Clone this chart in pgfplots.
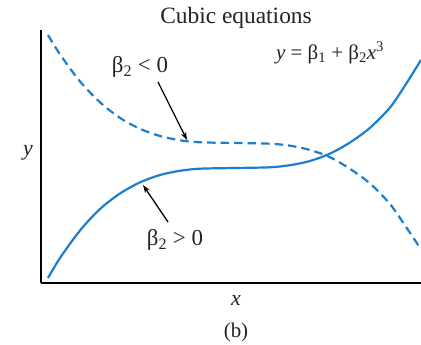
\documentclass[border=0pt]{standalone}
\usepackage{fontspec}
\setmainfont{Liberation Serif}
\usepackage{pgfplots}
\pgfplotsset{compat=1.18}
\usetikzlibrary{arrows.meta}
\definecolor{curveblue}{RGB}{28,126,206}
\definecolor{inktext}{RGB}{35,35,35}

\begin{document}
\begin{tikzpicture}
\path[use as bounding box] (0,0) rectangle (421bp,345bp);
\begin{axis}[
  at={(41bp,62bp)}, anchor=south west,
  scale only axis, width=380bp, height=253bp,
  xmin=0, xmax=380, ymin=0, ymax=253,
  axis lines*=left, ticks=none,
  axis line style={line width=2bp, black},
  clip=false,
]
% beta_2 > 0 (solid)
\addplot[curveblue, line width=2.2bp, smooth] coordinates {
  (7,5) (19,25) (39,52.5) (59,74) (79,89.5) (99,100.6) (119,108)
  (139,112.2) (159,114.3) (194,115) (229,115.7) (249,117.8) (269,122)
  (289,129.4) (309,140.5) (329,155.2) (349,175.5) (364,197.4) (380,223)
};
% beta_2 < 0 (dashed)
\addplot[curveblue, line width=2.2bp, smooth, dash pattern=on 8.5bp off 5bp] coordinates {
  (7,248) (19,228.6) (39,201.6) (59,180.7) (79,165.1) (99,154.2) (119,147)
  (139,142.7) (159,140.7) (194,140) (229,139.3) (249,137.3) (269,133)
  (289,125.8) (309,114.1) (329,99.5) (349,79) (364,57.6) (380,33.6)
};
\draw[line width=1.3bp, -{Stealth[length=8bp,width=5.5bp]}] (axis cs:117,201) -- (axis cs:146,143);
\draw[line width=1.3bp, -{Stealth[length=8bp,width=5.5bp]}] (axis cs:127,61) -- (axis cs:102,98);
\end{axis}
\begin{scope}[every node/.style={text=inktext, inner sep=0pt}]
\node[font=\fontsize{23.5}{26}\selectfont] at (236bp,327bp) {Cubic equations};
\node[font=\fontsize{21}{24}\selectfont] at (330bp,292bp) {\textit{y} = β\textsubscript{1} + β\textsubscript{2}\textit{x}\textsuperscript{3}};
\node[font=\fontsize{23}{24}\selectfont] at (140bp,278bp) {β\textsubscript{2} < 0};
\node[font=\fontsize{23}{24}\selectfont] at (175bp,105bp) {β\textsubscript{2} > 0};
\node[font=\fontsize{22}{24}\selectfont\itshape] at (28bp,192bp) {y};
\node[font=\fontsize{22}{24}\selectfont\itshape] at (236bp,45bp) {x};
\node[font=\fontsize{21}{24}\selectfont] at (236bp,13bp) {(b)};
\end{scope}
\end{tikzpicture}
\end{document}
